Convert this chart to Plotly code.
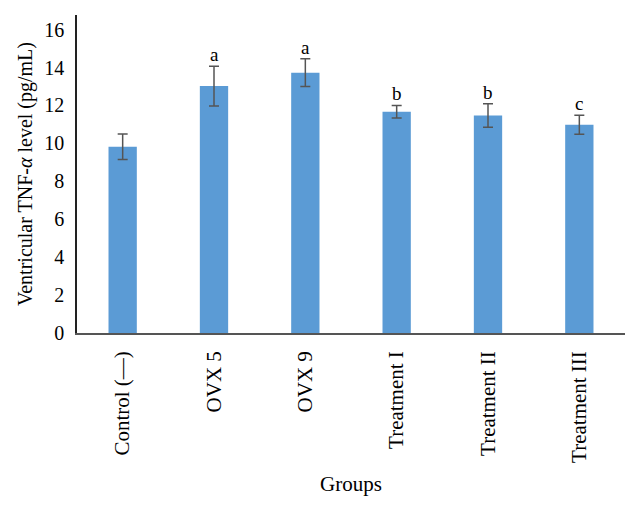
import plotly.graph_objects as go

groups = ["Control (—)", "OVX 5", "OVX 9", "Treatment I", "Treatment II", "Treatment III"]
means = [9.82, 13.02, 13.73, 11.67, 11.47, 10.98]
errors = [0.67, 1.05, 0.73, 0.33, 0.62, 0.5]
letters = ["", "a", "a", "b", "b", "c"]
yticks = [0, 2, 4, 6, 8, 10, 12, 14, 16]

FONT = "Liberation Serif"

fig = go.Figure()
fig.add_trace(go.Bar(
    x=groups, y=means,
    marker=dict(color="#5B9BD5", line=dict(width=0)),
    error_y=dict(type="data", array=errors, visible=True, color="#555555", thickness=1.5, width=5),
    showlegend=False,
))

for g, m, e, l in zip(groups, means, errors, letters):
    if l:
        fig.add_annotation(x=g, y=m + e, text=l, showarrow=False, yanchor="bottom", yshift=-1,
                           font=dict(family=FONT, size=19, color="black"))

fig.update_layout(
    width=640, height=508,
    margin=dict(l=69, r=23, t=7, b=183),
    plot_bgcolor="white", paper_bgcolor="white",
    bargap=0.69,
    font=dict(family=FONT, size=20, color="black"),
    xaxis=dict(
        showline=True, linecolor="#555555", linewidth=1.5,
        tickangle=-90, ticks="", ticklabelstandoff=8,
        title=dict(text="Groups", font=dict(family=FONT, size=21), standoff=14),
        tickfont=dict(family=FONT, size=21),
    ),
    yaxis=dict(
        range=[0, 16.77], tickvals=yticks, showgrid=False, zeroline=False,
        showline=True, linecolor="#222222", linewidth=1.5, ticks="",
        ticklabelstandoff=7,
        title=dict(text="Ventricular TNF-<i>α</i> level (pg/mL)", font=dict(family=FONT, size=20), standoff=6),
        tickfont=dict(family=FONT, size=20),
    ),
)

fig.write_html("out.html")
